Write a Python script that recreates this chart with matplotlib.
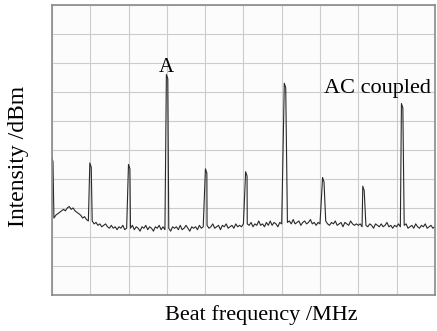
import numpy as np
import matplotlib.pyplot as plt

plt.rcParams['font.family'] = ['Liberation Serif', 'DejaVu Serif']

# noise floor of the spectrum, one value every 0.05 division (0..10)
floor_db = [
    -74, -73.5, -72.5, -72, -71.5, -71, -70.5, -71, -70, -69.5,
    -70.5, -70, -71, -71.5, -72, -72.5, -73.5, -73, -74, -74.5,
    -75, -74.5, -75.5, -75, -76, -75.5, -76.5, -76, -75.5, -76.5,
    -77, -76, -77, -76.5, -77.5, -76.5, -77, -76, -77.5, -77,
    -76.5, -77, -76, -77.5, -76.5, -77, -78, -76.5, -77, -76,
    -77.5, -76.5, -77, -78, -76.5, -77, -76, -77.5, -76.5, -77.5,
    -76.5, -77, -78, -76.5, -77, -76.5, -77.5, -76, -77.5, -77,
    -76, -77, -78, -76.5, -77, -76.5, -77.5, -76, -77, -76.5,
    -77, -76, -77, -76.5, -75.5, -77, -76.5, -76, -77.5, -76,
    -76.5, -75.5, -77, -76.5, -76, -77, -75.5, -76.5, -76, -76.5,
    -75.5, -76.5, -75.5, -76, -75, -76.5, -75.5, -76, -74.5, -76,
    -75.5, -76.5, -75, -76, -74.5, -76, -75, -75.5, -76.5, -75,
    -75.5, -74.5, -76, -75, -74.5, -75.5, -74, -75.5, -75, -74.5,
    -76, -75, -74.5, -75.5, -75, -74, -75.5, -75, -76, -75,
    -75.5, -75, -76, -74.5, -75.5, -76, -75, -75.5, -74.5, -76,
    -75.5, -75, -76.5, -75, -75.5, -76, -74.5, -75.5, -76, -75.5,
    -76, -75.5, -76.5, -75, -76, -76.5, -75.5, -76, -77, -75.5,
    -76, -76.5, -75.5, -76.5, -76, -75, -76.5, -76, -77, -76,
    -76.5, -75.5, -76.5, -77, -76, -75.5, -77, -76.5, -76, -77,
    -75.5, -76.5, -77, -76, -76.5, -75.5, -77, -76.5, -76, -77,
    -76.5,
]
floor_x = np.arange(len(floor_db)) * 0.05

# beat notes (position in divisions, level in dB)
peak_x = [0.0, 1.0, 2.01, 3.0, 4.02, 5.07, 6.08, 7.08, 8.13, 9.14]
peak_db = [-52.5, -54.5, -55, -24, -56.5, -57.5, -27, -59.5, -62.5, -34]

# merge floor and peaks into one trace
xs = []
ys = []
for x, y in zip(floor_x, floor_db):
    if min(abs(x - p) for p in peak_x) > 0.03:
        xs.append(x)
        ys.append(y)
for p, h in zip(peak_x, peak_db):
    xs += [p - 0.012, p + 0.025]
    ys += [h, h - 1.5]
order = np.argsort(xs)
xs = np.array(xs)[order]
ys = np.array(ys)[order]

fig = plt.figure(figsize=(4.37, 3.31), dpi=100)
ax = fig.add_axes([0.119, 0.109, 0.876, 0.876])
ax.set_facecolor('#fcfcfc')
ax.plot(xs, ys, color='#2a2a2a', lw=0.8)

ax.set_xlim(0, 10)
ax.set_ylim(-100, 0)
ax.set_xticks(np.arange(0, 11, 1))
ax.set_yticks(np.arange(-100, 1, 10))
ax.tick_params(length=0, labelbottom=False, labelleft=False)
ax.grid(color='#cccccc', lw=0.8)
for s in ax.spines.values():
    s.set_color('#8a8a8a')
    s.set_linewidth(1.2)

ax.text(3.0, -23.2, 'A', ha='center', va='baseline', fontsize=15)
ax.text(8.5, -30.3, 'AC coupled', ha='center', va='baseline', fontsize=16)

ax.set_xlabel('Beat frequency /MHz', fontsize=16)
ax.xaxis.set_label_coords(0.548, -0.036)
ax.set_ylabel('Intensity /dBm', fontsize=17)
ax.yaxis.set_label_coords(-0.06, 0.479)

fig.savefig('out.png', dpi=100)
